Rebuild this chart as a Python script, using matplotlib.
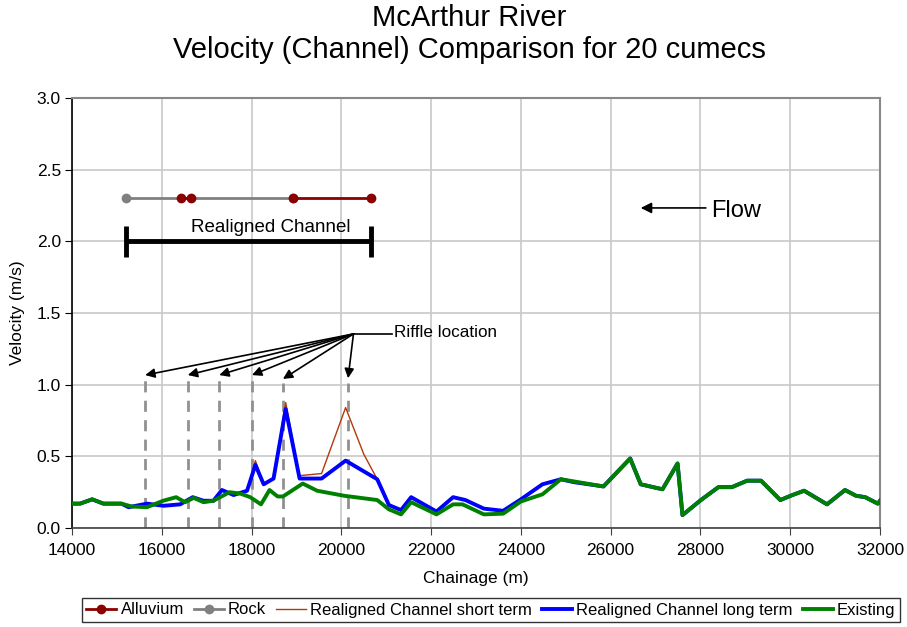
import matplotlib
matplotlib.use("Agg")
import matplotlib.pyplot as plt
import numpy as np

plt.rcParams['font.family'] = ['Liberation Sans', 'DejaVu Sans']

# ---------------- data ----------------
chain_exist = [14000, 14180, 14450, 14700, 15100, 15330, 15670, 16030, 16320, 16520,
               16710, 16930, 17150, 17510, 17750, 17970, 18210, 18400, 18580, 18700,
               19140, 19460, 20060, 20800, 21060, 21330, 21555, 22120, 22490, 22700,
               23175, 23605, 24000, 24480, 24890, 25180, 25840, 26435, 26670, 27155,
               27490, 27600, 28010, 28400, 28700, 29040, 29350, 29780, 30050, 30310,
               30820, 31220, 31465, 31670, 31950, 32000]
vel_exist = [0.17, 0.17, 0.20, 0.17, 0.17, 0.15, 0.145, 0.19, 0.215, 0.18,
             0.21, 0.18, 0.19, 0.25, 0.24, 0.215, 0.165, 0.265, 0.22, 0.22,
             0.31, 0.26, 0.225, 0.195, 0.13, 0.095, 0.18, 0.095, 0.165, 0.165,
             0.095, 0.10, 0.185, 0.235, 0.34, 0.325, 0.29, 0.485, 0.305, 0.27,
             0.45, 0.09, 0.195, 0.285, 0.285, 0.33, 0.33, 0.195, 0.23, 0.26,
             0.165, 0.265, 0.225, 0.215, 0.17, 0.19]

chain_long = [14000, 14180, 14450, 14700, 15100, 15260, 15670, 16040, 16410, 16690,
              16930, 17150, 17340, 17600, 17900, 18085, 18270, 18490, 18760, 19070,
              19560, 20095, 20800, 21060, 21330, 21555, 22120, 22490, 22765, 23175,
              23605, 24000, 24480, 24890, 25180, 25840, 26435, 26670, 27155, 27490,
              27600, 28010, 28400, 28700, 29040, 29350, 29780, 30050, 30310, 30820,
              31220, 31465, 31670, 31950, 32000]
vel_long = [0.17, 0.17, 0.20, 0.17, 0.17, 0.145, 0.17, 0.155, 0.165, 0.215,
            0.19, 0.19, 0.265, 0.23, 0.26, 0.44, 0.305, 0.345, 0.83, 0.345,
            0.345, 0.47, 0.34, 0.16, 0.125, 0.215, 0.115, 0.215, 0.195, 0.135,
            0.12, 0.20, 0.305, 0.34, 0.32, 0.29, 0.485, 0.305, 0.27, 0.45,
            0.09, 0.195, 0.285, 0.285, 0.33, 0.33, 0.195, 0.23, 0.26, 0.165,
            0.265, 0.225, 0.215, 0.17, 0.19]

chain_short = [14000, 14180, 14450, 14700, 15100, 15260, 15670, 16040, 16410, 16690,
               16930, 17150, 17340, 17600, 17900, 18085, 18270, 18490, 18760, 19070,
               19560, 20095, 20500, 20800, 21060, 21330, 21555, 22120, 22490, 22765,
               23175, 23605, 24000, 24480, 24890, 25180, 25840, 26435, 26670, 27155,
               27490, 27600, 28010, 28400, 28700, 29040, 29350, 29780, 30050, 30310,
               30820, 31220, 31465, 31670, 31950, 32000]
vel_short = [0.17, 0.17, 0.20, 0.17, 0.17, 0.145, 0.17, 0.155, 0.165, 0.215,
             0.19, 0.19, 0.27, 0.235, 0.265, 0.47, 0.31, 0.35, 0.875, 0.365,
             0.38, 0.84, 0.515, 0.34, 0.16, 0.125, 0.215, 0.115, 0.215, 0.195,
             0.135, 0.12, 0.20, 0.305, 0.34, 0.32, 0.29, 0.485, 0.305, 0.27,
             0.45, 0.09, 0.195, 0.285, 0.285, 0.33, 0.33, 0.195, 0.23, 0.26,
             0.165, 0.265, 0.225, 0.215, 0.17, 0.19]

rock_x = [15200, 18930]
rock_y = [2.3, 2.3]
alluvium_x = [16430, 16650, np.nan, 18930, 20670]
alluvium_y = [2.3, 2.3, np.nan, 2.3, 2.3]

realigned_x = [15200, 20670]
realigned_y = 2.0

riffle_x = [15630, 16580, 17280, 18010, 18700, 20150]
riffle_top = [1.067, 1.067, 1.067, 1.067, 1.04, 1.045]
riffle_label_xy = (20270, 1.354)

flow_x = [28120, 26670]
flow_y = 2.233

yticks = [0.0, 0.5, 1.0, 1.5, 2.0, 2.5, 3.0]
xticks = list(range(14000, 32001, 2000))

# ---------------- figure ----------------
fig = plt.figure(figsize=(9.07, 6.27), dpi=100)
ax = fig.add_axes([72/907, 1-528/627, (880-72)/907, (528-98)/627])

grid_c = '#c8c8c8'
ax.set_xlim(14000, 32000)
ax.set_ylim(0, 3.0)
ax.set_xticks(xticks)
ax.set_yticks(yticks)
ax.set_yticklabels([f"{v:.1f}" for v in yticks])
ax.grid(True, color=grid_c, lw=1.2)
ax.set_axisbelow(True)
ax.tick_params(axis='both', labelsize=12.5, direction='out', length=5)
ax.tick_params(axis='x', colors='#404040', labelcolor='black', pad=6)
ax.tick_params(axis='y', pad=3)
for s in ['top', 'right']:
    ax.spines[s].set_color('#888888')
    ax.spines[s].set_linewidth(1.5)
ax.spines['left'].set_color('black')
ax.spines['bottom'].set_color('#404040')
ax.spines['left'].set_linewidth(1.2)
ax.spines['bottom'].set_linewidth(1.2)

# riffle dashed lines
for x, t in zip(riffle_x, riffle_top):
    ax.plot([x, x], [0, t - 0.03], color='#909090', lw=2, dashes=(4, 3), zorder=2)
    ax.annotate('', xy=(x, t), xytext=riffle_label_xy,
                arrowprops=dict(arrowstyle='-|>', color='black', lw=1.2,
                                mutation_scale=14, shrinkA=0, shrinkB=0), zorder=3)
ax.plot([riffle_label_xy[0], 21120], [riffle_label_xy[1], riffle_label_xy[1]],
        color='black', lw=1.2)
ax.text(21180, riffle_label_xy[1] + 0.01, 'Riffle location', fontsize=12.3,
        va='center', ha='left')

# series
l_all, = ax.plot(alluvium_x, alluvium_y, color='#8B0000', lw=2, marker='o', ms=6,
                 label='Alluvium', zorder=5)
l_rock, = ax.plot(rock_x, rock_y, color='#808080', lw=2, marker='o', ms=6,
                  label='Rock', zorder=4)
l_short, = ax.plot(chain_short, vel_short, color='#B03A0A', lw=1,
                   label='Realigned Channel short term', zorder=4)
l_long, = ax.plot(chain_long, vel_long, color='#0000FF', lw=2.8,
                  label='Realigned Channel long term', zorder=5)
l_ex, = ax.plot(chain_exist, vel_exist, color='#008000', lw=2.8, label='Existing', zorder=6)

# realigned channel bar
ax.plot(realigned_x, [realigned_y, realigned_y], color='black', lw=3.5, solid_capstyle='butt')
for x in realigned_x:
    ax.plot([x, x], [realigned_y - 0.11, realigned_y + 0.11], color='black', lw=3.5,
            solid_capstyle='butt')
ax.text(18420, realigned_y + 0.095, 'Realigned Channel', fontsize=13.5,
        ha='center', va='center')

# flow arrow
ax.annotate('', xy=(flow_x[1], flow_y), xytext=(flow_x[0], flow_y),
            arrowprops=dict(arrowstyle='-|>', color='black', lw=1.2, mutation_scale=16,
                            shrinkA=0, shrinkB=0))
ax.text(28230, flow_y - 0.02, 'Flow', fontsize=17, ha='left', va='center')

ax.set_xlabel('Chainage (m)', fontsize=12.5, labelpad=9)
ax.set_ylabel('Velocity (m/s)', fontsize=12.5, labelpad=8)

fig.text(469/907, 1 - 18/627, 'McArthur River', fontsize=21, ha='center', va='center')
fig.text(469/907, 1 - 50/627, 'Velocity (Channel) Comparison for 20 cumecs', fontsize=21,
         ha='center', va='center')

leg = fig.legend(handles=[l_all, l_rock, l_short, l_long, l_ex], loc='center',
                 bbox_to_anchor=(491/907, 1-610/627), ncol=5, fontsize=12.0,
                 frameon=True, fancybox=False, edgecolor='black', handlelength=1.8,
                 handletextpad=0.25, columnspacing=0.6, borderpad=0.25,
                 borderaxespad=0)
leg.get_frame().set_linewidth(1.0)

fig.savefig('out.png', dpi=100)
